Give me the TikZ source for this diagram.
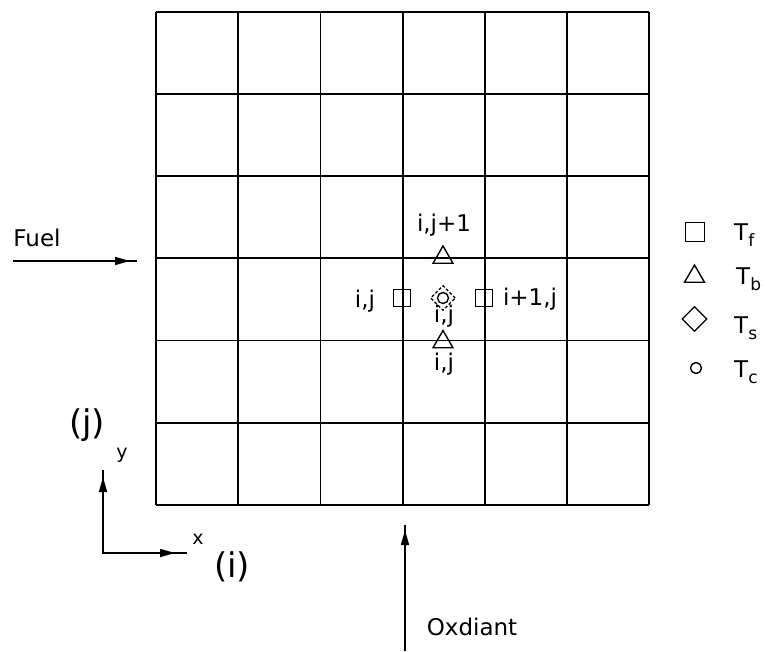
\documentclass[tikz,border=0pt]{standalone}
\usepackage{fontspec}
\setmainfont{DejaVu Sans}
\usetikzlibrary{shapes.geometric,arrows.meta}
\newcommand{\lowsub}[1]{\raisebox{-6pt}{\fontsize{17}{19}\selectfont #1}}
\begin{document}
\begin{tikzpicture}[x=1pt,y=-1pt,
  gridline/.style={line width=1.8pt},
  lbl/.style={font=\fontsize{23}{26}\selectfont, inner sep=0pt},
  small/.style={font=\fontsize{19}{22}\selectfont, inner sep=0pt},
  big/.style={font=\fontsize{34}{37}\selectfont, inner sep=0pt},
  sq/.style={draw, line width=1.5pt, minimum size=17pt, inner sep=0pt},
  lsq/.style={draw, line width=1.5pt, minimum size=19pt, inner sep=0pt},
  tri/.style={draw, regular polygon, regular polygon sides=3, line width=1.4pt, minimum size=23pt, inner sep=0pt},
  dia/.style={draw, diamond, minimum width=25pt, minimum height=25pt, inner sep=0pt, line width=1.3pt},
  ring/.style={draw, circle, minimum size=11pt, inner sep=0pt, line width=1.4pt},
  flow/.style={line width=1.5pt},
  tip/.style={line width=1.5pt, -{Triangle[length=15pt,width=8pt]}},
]
\useasboundingbox (0,0) rectangle (765,651);

% grid
\foreach \k in {0,...,6} {
  \draw[gridline] ({156+\k*82.2},11.7) -- ({156+\k*82.2},505);
  \draw[gridline] (156,{11.7+\k*82.2}) -- (649,{11.7+\k*82.2});
}

% markers in the grid
\node[sq] (wsq) at (402,298) {};
\node[sq] (esq) at (484,298) {};
\node[tri] (ntri) at (443,257.5) {};
\node[tri] (stri) at (443,342) {};
\node[dia, densely dashed] (cdia) at (443,298) {};
\node[ring] (cring) at (443,298) {};

% labels in the grid
\node[lbl] (lnorth) at (444,225) {i,j+1};
\node[lbl] (lwest) at (365,301) {i,j};
\node[lbl] (least) at (530,299) {i+1,j};
\node[lbl] (lcent) at (444,316) {i,j};
\node[lbl] (lsouth) at (444,364) {i,j};

% Fuel arrow
\coordinate (fa) at (13,261);
\coordinate (fb) at (137,261);
\draw[flow] (fa) -- (fb);
\draw[tip, shorten >=7pt] (fa) -- (fb);
\node[lbl] (fuel) at (37,238) {Fuel};

% Oxidant arrow
\coordinate (oa) at (405,651);
\coordinate (ob) at (405,525);
\draw[flow] (oa) -- (ob);
\draw[tip, shorten >=5pt] (oa) -- (ob);
\node[lbl] (oxd) at (472,627) {Oxdiant};

% axes
\coordinate (org) at (103,553);
\coordinate (yend) at (103,470);
\coordinate (xend) at (187,553);
\draw[flow] (yend) -- (org) -- (xend);
\draw[tip, shorten >=7pt] (org) -- (yend);
\draw[tip, shorten >=12pt] (org) -- (xend);
\node[small] (ylab) at (122,455) {y};
\node[small] (xlab) at (198,539) {x};
\node[big] (jlab) at (87,425) {(j)};
\node[big] (ilab) at (232,567) {(i)};

% legend
\node[lsq] (lgsq) at (695,232) {};
\node[tri] (lgtri) at (694.5,276.5) {};
\node[dia] (lgdia) at (694.5,319) {};
\node[ring] (lgring) at (696,368) {};
\node[lbl, anchor=base west] (tf) at (734,240) {T\lowsub{f}};
\node[lbl, anchor=base west] (tb) at (736,284) {T\lowsub{b}};
\node[lbl, anchor=base west] (ts) at (734,333) {T\lowsub{s}};
\node[lbl, anchor=base west] (tc) at (734,377) {T\lowsub{c}};
\end{tikzpicture}
\end{document}
